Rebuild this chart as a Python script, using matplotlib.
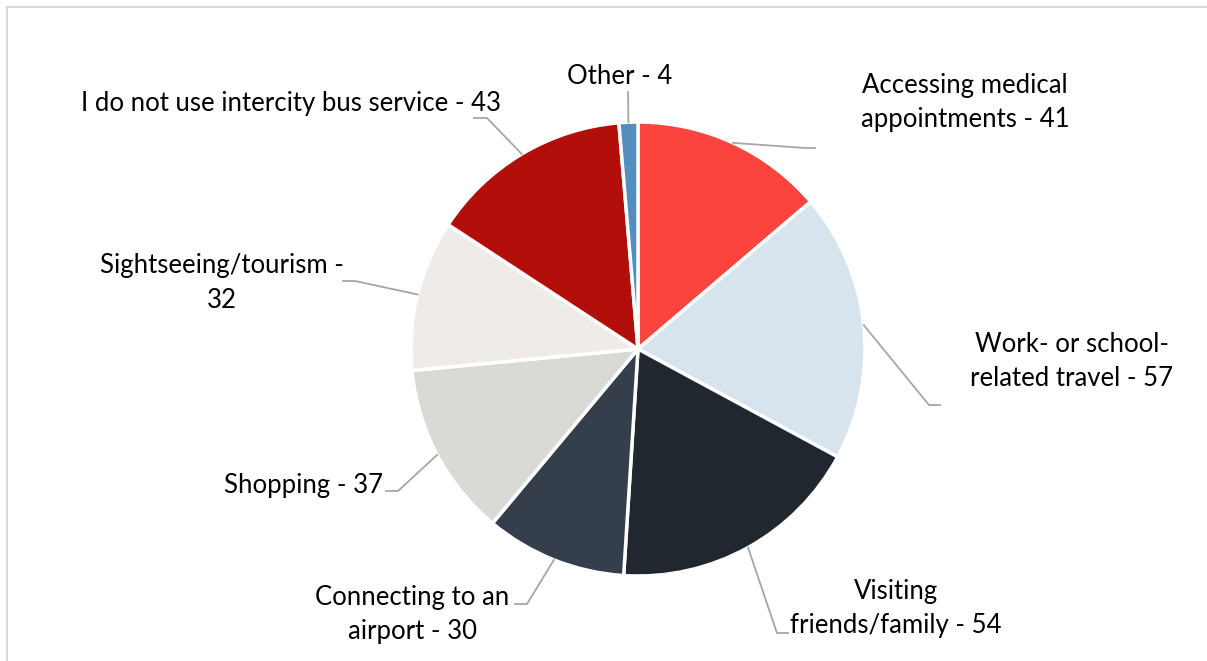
import numpy as np
import matplotlib
matplotlib.use('Agg')
import matplotlib.pyplot as plt
from matplotlib.lines import Line2D

plt.rcParams['font.family'] = ['Lato', 'DejaVu Sans']

# 数据
labels = ['Accessing medical\nappointments', 'Work- or school-\nrelated travel',
          'Visiting\nfriends/family', 'Connecting to an\nairport', 'Shopping',
          'Sightseeing/tourism -\n', 'I do not use intercity bus service', 'Other']
values = [41, 57, 54, 30, 37, 32, 43, 4]
colors = ['#FA443D', '#D7E4EE', '#21272E', '#353F4B', '#D9D9D5',
          '#EFEBE8', '#B30F0A', '#548EBF']

W, H = 1207, 661
fig = plt.figure(figsize=(W / 100, H / 100), dpi=100, facecolor='white')
ax = fig.add_axes([0, 0, 1, 1])

cx, cy, R = 638, H - 349, 227
wedges, _ = ax.pie(values, colors=colors, startangle=90, counterclock=False,
                   center=(cx, cy), radius=R, frame=True,
                   wedgeprops=dict(edgecolor='white', linewidth=2.5))
ax.set_xlim(0, W)
ax.set_ylim(0, H)
ax.set_aspect('equal')
ax.axis('off')

# 标签位置 (像素: elbow x, elbow y, end x, text x, text y)
layout = [
    (805, 148, 815, 965, 103),
    (929, 405, 940, 1072, 362),
    (777, 633, 788, 896, 609),
    (527, 604, 515, 412, 615),
    (398, 491, 386, 304, 485),
    (355, 281, 343, 222, 283),
    (487, 118, 474, 291, 103),
    (628, 92, 628, 620, 76),
]

total = sum(values)
cum = np.cumsum([0] + values)
for i, (v, lab) in enumerate(zip(values, labels)):
    mid = (cum[i] + v / 2) / total * 360
    ang = np.deg2rad(90 - mid)
    sx, sy = cx + R * np.cos(ang), cy + R * np.sin(ang)
    ex, ey, endx, tx, ty = layout[i]
    ax.add_line(Line2D([sx, ex, endx], [sy, H - ey, H - ey],
                       color='#A6A6A6', linewidth=1.3, zorder=1))
    if lab.endswith('\n'):
        txt = f'{lab}{v}'
    else:
        txt = f'{lab} - {v}'
    ax.text(tx, H - ty, txt, ha='center', va='center', fontsize=18.5,
            color='black', linespacing=1.45)

# 外框
ax.add_line(Line2D([6.5, W], [H - 7, H - 7], color='#D9D9D9', linewidth=1.5))
ax.add_line(Line2D([6.5, 6.5], [0, H - 7], color='#D9D9D9', linewidth=1.5))

fig.savefig('out.png', dpi=100, facecolor='white')
